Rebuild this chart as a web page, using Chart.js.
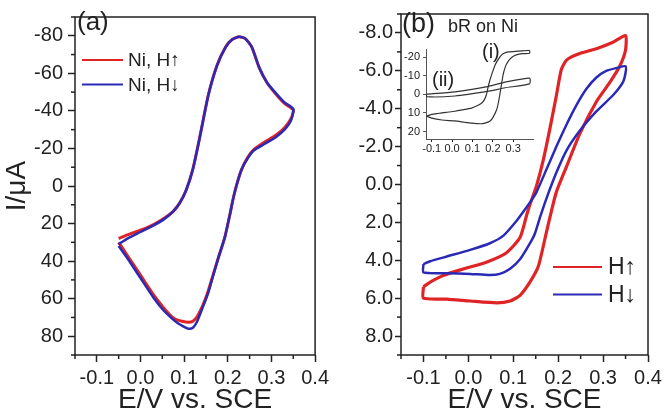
<!DOCTYPE html>
<html>
<head>
<meta charset="utf-8">
<script src="https://cdn.jsdelivr.net/npm/chart.js@4"></script>
<style>
  body { margin: 0; background: #fff; }
  #wrap { position: relative; width: 666px; height: 420px; }
  .box { position: absolute; }
</style>
</head>
<body>
<div id="wrap">
  <div class="box" style="left:0;top:0;width:333px;height:420px"><canvas id="chart-a"></canvas></div>
  <div class="box" style="left:333px;top:0;width:333px;height:420px"><canvas id="chart-b"></canvas></div>
  <div class="box" style="left:395px;top:40px;width:145px;height:115px"><canvas id="chart-inset"></canvas></div>
</div>
<script>
// tick values
const potentialTicks = [-0.1, 0.0, 0.1, 0.2, 0.3, 0.4];
const insetPotentialTicks = [-0.1, 0.0, 0.1, 0.2, 0.3];
const currentTicksA = [-80, -60, -40, -20, 0, 20, 40, 60, 80];
const currentTicksB = [-8, -6, -4, -2, 0, 2, 4, 6, 8];
const currentTicksInset = [-20, -10, 0, 10, 20];

// panel (a): bare Ni electrode, potential (V vs SCE) and current (uA)
const aRedE = [-0.05, -0.03, 0.0, 0.03, 0.055, 0.075, 0.09, 0.105, 0.12, 0.135, 0.155, 0.175, 0.195, 0.21, 0.226, 0.24, 0.255, 0.272, 0.29, 0.31, 0.33, 0.35,
  0.345, 0.33, 0.31, 0.285, 0.26, 0.245, 0.232, 0.222, 0.213, 0.205, 0.193, 0.18, 0.168, 0.155, 0.142, 0.13, 0.12, 0.11, 0.095, 0.08, 0.065, 0.05, 0.03, 0.01, -0.01, -0.03, -0.05];
const aRedI = [28, 26, 23.5, 20.5, 17, 13.5, 9, 2, -9, -25, -48, -64, -74, -78, -79.5, -78.5, -74, -63, -55, -49, -44, -40.5,
  -36, -31, -27, -23.5, -19.5, -15, -9, -2, 6, 15, 27.5, 37, 46, 56, 64, 69.5, 72, 72.5, 72, 71, 68, 64, 58, 51, 44, 37, 30];
const aBlueE = [-0.05, -0.03, 0.0, 0.03, 0.055, 0.075, 0.09, 0.105, 0.12, 0.135, 0.155, 0.175, 0.195, 0.21, 0.226, 0.24, 0.255, 0.272, 0.29, 0.31, 0.33, 0.35,
  0.345, 0.33, 0.31, 0.285, 0.26, 0.245, 0.232, 0.222, 0.213, 0.205, 0.193, 0.18, 0.168, 0.155, 0.142, 0.13, 0.12, 0.11, 0.1, 0.085, 0.065, 0.05, 0.03, 0.01, -0.01, -0.03, -0.05];
const aBlueI = [31, 28, 24.5, 21, 17.5, 13.5, 9, 2, -9, -25, -48, -64, -74, -78, -79.5, -78.5, -74, -63, -55, -49.5, -44.5, -41,
  -35, -30, -26, -22.5, -19, -14.5, -9, -2, 6, 15, 27.5, 37, 46.5, 57, 65, 72, 75.5, 76, 75, 73, 69, 65.5, 59.5, 52.5, 45.5, 38.5, 32];

// panel (b): bR on Ni, current (uA)
const bRedE = [-0.1, -0.085, -0.056, -0.01, 0.04, 0.085, 0.115, 0.13, 0.137, 0.152, 0.167, 0.182, 0.196, 0.207, 0.219, 0.248, 0.285, 0.322, 0.35,
  0.35, 0.337, 0.315, 0.285, 0.248, 0.219, 0.196, 0.185, 0.174, 0.156, 0.137, 0.115, 0.093, 0.063, 0.004, -0.048, -0.1, -0.1];
const bRedI = [5.4, 5.15, 4.8, 4.45, 4.1, 3.6, 2.8, 1.6, 1.07, 0.05, -1.31, -3.0, -4.7, -6.07, -6.58, -6.92, -7.17, -7.51, -7.86,
  -7.1, -6.24, -5.39, -4.37, -2.67, -0.97, 0.39, 1.4, 2.5, 4.3, 5.15, 5.85, 6.15, 6.25, 6.15, 6.05, 6.0, 5.4];
const bBlueE = [-0.1, -0.085, -0.048, 0.004, 0.048, 0.078, 0.108, 0.125, 0.14, 0.152, 0.174, 0.196, 0.219, 0.241, 0.263, 0.285, 0.307, 0.33, 0.35,
  0.35, 0.344, 0.322, 0.285, 0.248, 0.219, 0.196, 0.174, 0.16, 0.148, 0.137, 0.115, 0.093, 0.07, 0.048, 0.004, -0.048, -0.1, -0.1];
const bBlueI = [4.2, 4.05, 3.8, 3.45, 3.1, 2.7, 1.9, 1.35, 0.85, 0.39, -0.8, -2.0, -3.18, -4.2, -5.05, -5.65, -6.0, -6.15, -6.24,
  -5.9, -5.39, -4.71, -3.86, -2.84, -1.82, -0.63, 0.73, 1.7, 2.6, 3.11, 3.95, 4.45, 4.72, 4.78, 4.72, 4.68, 4.64, 4.2];

// inset: curve (i) and curve (ii)
const insetOneE = [-0.125, -0.1, -0.05, 0.014, 0.06, 0.096, 0.14, 0.161, 0.185, 0.2, 0.219, 0.228, 0.235, 0.245, 0.251, 0.262, 0.276, 0.295, 0.315, 0.345, 0.38,
  0.38, 0.345, 0.31, 0.275, 0.255, 0.24, 0.225, 0.21, 0.197, 0.185, 0.175, 0.168, 0.158, 0.144, 0.12, 0.096, 0.05, 0.014, -0.03, -0.07, -0.1, -0.125];
const insetOneI = [11.7, 12.8, 13.8, 14.3, 15, 15.5, 15.8, 15.5, 14.5, 12.5, 8.2, 4, -0.4, -7, -10.8, -15, -17.8, -20, -21.2, -21.8, -22,
  -23.5, -23.3, -23, -22.8, -22, -20.8, -18.5, -15.5, -11.5, -7.4, -3, 0.4, 3, 4.8, 6.3, 7.4, 8.4, 9.1, 9.7, 10.3, 10.8, 11.7];
const insetTwoE = [-0.125, 0.014, 0.18, 0.26, 0.38, 0.38, 0.26, 0.18, 0.014, -0.125, -0.125];
const insetTwoI = [-0.1, -1.3, -4.3, -6.5, -8.7, -5.6, -3.5, -1.7, 0.9, 1.3, -0.1];

const red = '#e02426';
const blue = '#2a2ab6';
const ink = '#222';
const face = '"Liberation Sans", Arial, sans-serif';
Chart.defaults.font.family = face;
Chart.defaults.color = ink;

function pts(xs, ys) {
  return xs.map((x, i) => ({ x: x, y: ys[i] }));
}

function fmt1(v) {
  return (Math.abs(v) < 1e-9 ? 0 : v).toFixed(1);
}

function fixedTicks(values) {
  return (s) => { s.ticks = values.map((v) => ({ value: v })); };
}

// frame, minor ticks, free text and a small line legend
const decor = {
  id: 'decor',
  afterDraw(chart, args, opts) {
    const ctx = chart.ctx;
    const { left, top, right, bottom } = chart.chartArea;
    ctx.save();
    ctx.strokeStyle = opts.color || ink;
    ctx.lineWidth = opts.lineWidth || 1.5;
    if (opts.frame) {
      ctx.strokeRect(left, top, right - left, bottom - top);
    }
    (opts.minor || []).forEach((m) => {
      const scale = chart.scales[m.axis];
      const majors = scale.ticks.map((t) => t.value);
      for (let k = Math.ceil(scale.min / m.step - 1e-6); k * m.step <= scale.max + 1e-9; k++) {
        const v = k * m.step;
        if (majors.some((t) => Math.abs(t - v) < 1e-9)) continue;
        const p = scale.getPixelForValue(v);
        ctx.beginPath();
        if (scale.isHorizontal()) {
          ctx.moveTo(p, bottom);
          ctx.lineTo(p, bottom + m.len);
        } else {
          ctx.moveTo(left, p);
          ctx.lineTo(left - m.len, p);
        }
        ctx.stroke();
      }
    });
    ctx.fillStyle = ink;
    (opts.texts || []).forEach((t) => {
      ctx.font = t.font;
      ctx.textAlign = 'left';
      ctx.textBaseline = 'alphabetic';
      ctx.fillText(t.text, t.x, t.y);
    });
    if (opts.legend) {
      const L = opts.legend;
      let y = L.y;
      chart.data.datasets.forEach((ds) => {
        if (!ds.label) return;
        ctx.strokeStyle = ds.borderColor;
        ctx.lineWidth = 2;
        ctx.beginPath();
        ctx.moveTo(L.x, y);
        ctx.lineTo(L.x + L.len, y);
        ctx.stroke();
        ctx.font = L.font;
        ctx.textBaseline = 'middle';
        ctx.fillText(ds.label, L.x + L.len + L.gap, y + 1);
        y += L.dy;
      });
    }
    ctx.restore();
  },
};

function xAxis(min, max, height, fontSize, title, values) {
  return {
    type: 'linear',
    min: min,
    max: max,
    afterFit: (s) => { s.height = height; },
    afterBuildTicks: fixedTicks(values),
    border: { display: false },
    grid: { drawOnChartArea: false, tickLength: title ? 7 : 3, tickColor: ink, tickWidth: title ? 1.5 : 1 },
    ticks: {
      autoSkip: false, maxRotation: 0,
      padding: title ? 4 : 0, font: { size: fontSize }, callback: (v) => fmt1(v),
    },
    title: title ? { display: true, text: title, font: { size: 28 }, padding: { top: 0, bottom: 3 } } : { display: false },
  };
}

function lineSet(label, xs, ys, color, width, order) {
  return {
    label: label, data: pts(xs, ys), borderColor: color, backgroundColor: color,
    showLine: true, pointRadius: 0, borderWidth: width, tension: 0.2, order: order,
  };
}

new Chart(document.getElementById('chart-a'), {
  type: 'scatter',
  data: {
    datasets: [
      lineSet('Ni, H↑', aRedE, aRedI, red, 3, 1),
      lineSet('Ni, H↓', aBlueE, aBlueI, blue, 2.5, 0),
    ],
  },
  options: {
    responsive: true, maintainAspectRatio: false, animation: false,
    layout: { padding: { top: 3, right: 10, left: 0, bottom: 0 } },
    plugins: {
      legend: { display: false }, tooltip: { enabled: false },
      decor: {
        frame: true,
        minor: [{ axis: 'x', step: 0.05, len: 4 }, { axis: 'y', step: 10, len: 4 }],
        texts: [{ text: '(a)', x: 77, y: 30, font: '26px ' + face }],
        legend: { x: 82, y: 60, dy: 24.5, len: 41, gap: 5, font: '19px ' + face },
      },
    },
    scales: {
      x: xAxis(-0.15, 0.4, 65, 20, 'E/V vs. SCE', potentialTicks),
      y: {
        type: 'linear', min: -90, max: 90, reverse: true,
        afterFit: (s) => { s.width = 75; },
        afterBuildTicks: fixedTicks(currentTicksA),
        border: { display: false },
        grid: { drawOnChartArea: false, tickLength: 7, tickColor: ink, tickWidth: 1.5 },
        ticks: { padding: 5, font: { size: 20 } },
        title: { display: true, text: 'I/μA', font: { size: 28 }, padding: { top: 0, bottom: 0 } },
      },
    },
  },
  plugins: [decor],
});

new Chart(document.getElementById('chart-b'), {
  type: 'scatter',
  data: {
    datasets: [
      lineSet('H↑', bRedE, bRedI, red, 3.2, 1),
      lineSet('H↓', bBlueE, bBlueI, blue, 2.5, 0),
    ],
  },
  options: {
    responsive: true, maintainAspectRatio: false, animation: false,
    layout: { padding: { top: 3, right: 18, left: 0, bottom: 0 } },
    plugins: {
      legend: { display: false }, tooltip: { enabled: false },
      decor: {
        frame: true,
        minor: [{ axis: 'x', step: 0.05, len: 4 }, { axis: 'y', step: 1, len: 4 }],
        texts: [
          { text: '(b)', x: 69, y: 32, font: '27px ' + face },
          { text: 'bR on Ni', x: 115, y: 32, font: '18px ' + face },
        ],
        legend: { x: 220, y: 267, dy: 27.5, len: 49, gap: 6, font: '23px ' + face },
      },
    },
    scales: {
      x: xAxis(-0.15, 0.4, 65, 20, 'E/V vs. SCE', potentialTicks),
      y: {
        type: 'linear', min: -9, max: 9, reverse: true,
        afterFit: (s) => { s.width = 68; },
        afterBuildTicks: fixedTicks(currentTicksB),
        border: { display: false },
        grid: { drawOnChartArea: false, tickLength: 6, tickColor: ink, tickWidth: 1.5 },
        ticks: { padding: 2, font: { size: 20 }, callback: (v) => fmt1(v) },
      },
    },
  },
  plugins: [decor],
});

new Chart(document.getElementById('chart-inset'), {
  type: 'scatter',
  data: {
    datasets: [
      lineSet('', insetOneE, insetOneI, '#333', 1.2, 0),
      lineSet('', insetTwoE, insetTwoI, '#333', 1.2, 0),
    ],
  },
  options: {
    responsive: true, maintainAspectRatio: false, animation: false,
    layout: { padding: { top: 6, right: 7, left: 0, bottom: 0 } },
    plugins: {
      legend: { display: false }, tooltip: { enabled: false },
      decor: {
        frame: false,
        texts: [
          { text: '(i)', x: 87, y: 18, font: '20px ' + face },
          { text: '(ii)', x: 37, y: 46, font: '20px ' + face },
        ],
      },
    },
    scales: {
      x: Object.assign(xAxis(-0.128, 0.397, 16, 11, '', insetPotentialTicks), { border: { display: true, color: '#555', width: 1 } }),
      y: {
        type: 'linear', min: -24, max: 24, reverse: true,
        afterFit: (s) => { s.width = 31; },
        afterBuildTicks: fixedTicks(currentTicksInset),
        border: { display: true, color: '#555', width: 1 },
        grid: { drawOnChartArea: false, tickLength: 3, tickColor: '#555', tickWidth: 1 },
        ticks: { padding: 3, font: { size: 11 } },
      },
    },
  },
  plugins: [decor],
});
</script>
</body>
</html>
